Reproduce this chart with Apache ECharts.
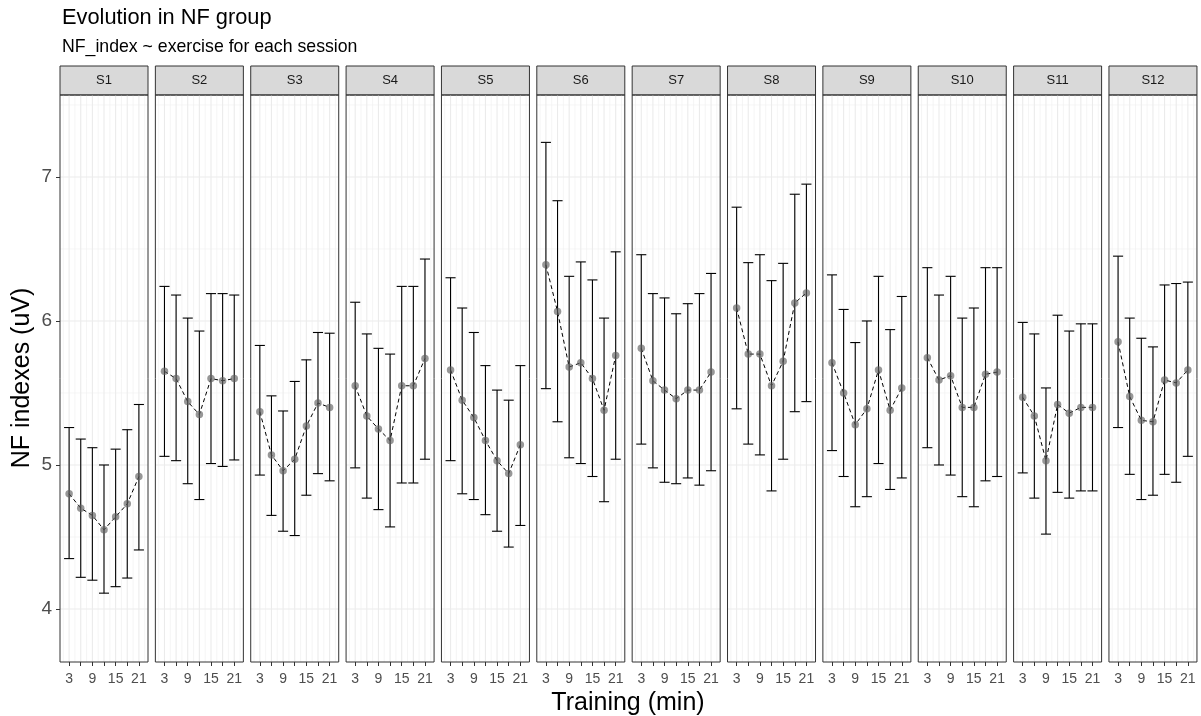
<!DOCTYPE html>
<html>
<head>
<meta charset="utf-8">
<title>Evolution in NF group</title>
<script src="https://cdn.jsdelivr.net/npm/echarts@6/dist/echarts.min.js"></script>
<style>
  html, body { margin: 0; padding: 0; background: #fff; }
  #chart { width: 1201px; height: 716px; }
</style>
</head>
<body>
<div id="chart"></div>
<script>
// ---- data ----
const sessions = ['S1', 'S2', 'S3', 'S4', 'S5', 'S6', 'S7', 'S8', 'S9', 'S10', 'S11', 'S12'];
const minutes = [3, 6, 9, 12, 15, 18, 21];
const xTickValues = [3, 6, 9, 12, 15, 18, 21];
const xLabelValues = [3, 9, 15, 21];
const yTickValues = [4, 5, 6, 7];

const meanS1 = [4.80, 4.70, 4.65, 4.55, 4.64, 4.73, 4.92];
const upperS1 = [5.26, 5.18, 5.12, 5.00, 5.11, 5.245, 5.42];
const lowerS1 = [4.35, 4.22, 4.20, 4.11, 4.155, 4.215, 4.41];

const meanS2 = [5.65, 5.60, 5.44, 5.35, 5.60, 5.585, 5.60];
const upperS2 = [6.24, 6.18, 6.02, 5.93, 6.19, 6.19, 6.18];
const lowerS2 = [5.06, 5.03, 4.87, 4.76, 5.01, 4.99, 5.035];

const meanS3 = [5.37, 5.07, 4.96, 5.04, 5.27, 5.43, 5.40];
const upperS3 = [5.83, 5.48, 5.375, 5.58, 5.73, 5.92, 5.915];
const lowerS3 = [4.93, 4.65, 4.54, 4.51, 4.79, 4.94, 4.89];

const meanS4 = [5.55, 5.34, 5.25, 5.17, 5.55, 5.55, 5.74];
const upperS4 = [6.13, 5.91, 5.81, 5.77, 6.24, 6.24, 6.43];
const lowerS4 = [4.98, 4.77, 4.69, 4.57, 4.875, 4.875, 5.04];

const meanS5 = [5.66, 5.45, 5.33, 5.17, 5.03, 4.94, 5.14];
const upperS5 = [6.30, 6.09, 5.92, 5.69, 5.52, 5.45, 5.69];
const lowerS5 = [5.03, 4.80, 4.76, 4.655, 4.54, 4.43, 4.58];

const meanS6 = [6.39, 6.065, 5.68, 5.71, 5.60, 5.38, 5.76];
const upperS6 = [7.24, 6.835, 6.31, 6.41, 6.285, 6.02, 6.48];
const lowerS6 = [5.53, 5.30, 5.05, 5.01, 4.92, 4.745, 5.04];

const meanS7 = [5.81, 5.585, 5.52, 5.46, 5.52, 5.52, 5.645];
const upperS7 = [6.46, 6.19, 6.16, 6.05, 6.12, 6.19, 6.33];
const lowerS7 = [5.145, 4.98, 4.88, 4.87, 4.91, 4.86, 4.96];

const meanS8 = [6.09, 5.77, 5.77, 5.55, 5.72, 6.125, 6.195];
const upperS8 = [6.79, 6.405, 6.46, 6.28, 6.40, 6.88, 6.95];
const lowerS8 = [5.39, 5.145, 5.07, 4.82, 5.04, 5.37, 5.44];

const meanS9 = [5.71, 5.50, 5.28, 5.39, 5.66, 5.38, 5.535];
const upperS9 = [6.32, 6.08, 5.85, 6.00, 6.31, 5.94, 6.17];
const lowerS9 = [5.10, 4.92, 4.71, 4.78, 5.01, 4.83, 4.91];

const meanS10 = [5.745, 5.59, 5.62, 5.40, 5.40, 5.63, 5.645];
const upperS10 = [6.37, 6.18, 6.31, 6.02, 6.09, 6.37, 6.37];
const lowerS10 = [5.12, 5.00, 4.93, 4.78, 4.71, 4.89, 4.92];

const meanS11 = [5.47, 5.34, 5.03, 5.42, 5.36, 5.40, 5.40];
const upperS11 = [5.99, 5.91, 5.535, 6.04, 5.93, 5.98, 5.98];
const lowerS11 = [4.945, 4.77, 4.52, 4.81, 4.77, 4.82, 4.82];

const meanS12 = [5.855, 5.475, 5.31, 5.30, 5.59, 5.57, 5.66];
const upperS12 = [6.45, 6.02, 5.88, 5.82, 6.25, 6.26, 6.27];
const lowerS12 = [5.26, 4.935, 4.76, 4.79, 4.935, 4.88, 5.06];

const means = [meanS1, meanS2, meanS3, meanS4, meanS5, meanS6, meanS7, meanS8, meanS9, meanS10, meanS11, meanS12];
const uppers = [upperS1, upperS2, upperS3, upperS4, upperS5, upperS6, upperS7, upperS8, upperS9, upperS10, upperS11, upperS12];
const lowers = [lowerS1, lowerS2, lowerS3, lowerS4, lowerS5, lowerS6, lowerS7, lowerS8, lowerS9, lowerS10, lowerS11, lowerS12];

// ---- layout ----
const FONT = 'Liberation Sans, Arial, Helvetica, sans-serif';
const PANEL_LEFT0 = 60;
const PANEL_STEP = 95.36;
const PANEL_W = 88;
const PANEL_TOP = 95;
const PANEL_H = 567;
const STRIP_H = 29;
const X_MIN = 0.65, X_MAX = 23.35;
const Y_MIN = 3.632, Y_MAX = 7.569;
const CAP_HALF = 1.3;   // half width of the error bar caps, in minutes

// background grid lines of each panel (major / minor)
const xMajorGrid = xTickValues;
const xMinorGrid = [1.5, 4.5, 7.5, 10.5, 13.5, 16.5, 19.5, 22.5];
const yMajorGrid = yTickValues;
const yMinorGrid = [4.5, 5.5, 6.5, 7.5];

const chart = echarts.init(document.getElementById('chart'), null, { renderer: 'canvas' });

const grids = [], xAxes = [], yAxes = [], series = [], graphics = [];

sessions.forEach(function (name, i) {
  const left = PANEL_LEFT0 + i * PANEL_STEP;
  grids.push({
    left: left, top: PANEL_TOP, width: PANEL_W, height: PANEL_H,
    show: false, containLabel: false, outerBoundsMode: 'none'
  });
  xAxes.push({
    type: 'value', gridIndex: i, min: X_MIN, max: X_MAX,
    axisLine: { show: false },
    axisTick: { show: true, customValues: xTickValues, length: 4, lineStyle: { color: '#333', width: 1 } },
    axisLabel: { show: true, customValues: xLabelValues, fontSize: 14, color: '#4d4d4d', margin: 10, fontFamily: FONT },
    splitLine: { show: false }
  });
  yAxes.push({
    type: 'value', gridIndex: i, min: Y_MIN, max: Y_MAX,
    axisLine: { show: false },
    axisTick: { show: i === 0, customValues: yTickValues, length: 4, lineStyle: { color: '#333', width: 1 } },
    axisLabel: { show: i === 0, customValues: yTickValues, fontSize: 19, color: '#4d4d4d', margin: 8, fontFamily: FONT },
    splitLine: { show: false }
  });

  // panel background grid and border
  series.push({
    type: 'custom', xAxisIndex: i, yAxisIndex: i, silent: true, z: 1,
    data: [[X_MIN, Y_MIN]],
    renderItem: function (params, api) {
      const cs = params.coordSys;
      const children = [];
      const vline = function (x, w, c) {
        const a = api.coord([x, Y_MIN]), b = api.coord([x, Y_MAX]);
        children.push({ type: 'line', shape: { x1: a[0], y1: a[1], x2: b[0], y2: b[1] }, style: { stroke: c, lineWidth: w } });
      };
      const hline = function (y, w, c) {
        const a = api.coord([X_MIN, y]), b = api.coord([X_MAX, y]);
        children.push({ type: 'line', shape: { x1: a[0], y1: a[1], x2: b[0], y2: b[1] }, style: { stroke: c, lineWidth: w } });
      };
      xMinorGrid.forEach(function (x) { vline(x, 0.6, '#efefef'); });
      yMinorGrid.forEach(function (y) { hline(y, 0.6, '#f0f0f0'); });
      xMajorGrid.forEach(function (x) { vline(x, 1.1, '#ebebeb'); });
      yMajorGrid.forEach(function (y) { hline(y, 1.1, '#ebebeb'); });
      children.push({
        type: 'rect', shape: { x: cs.x, y: cs.y, width: cs.width, height: cs.height },
        style: { fill: null, stroke: '#333', lineWidth: 1 }
      });
      return { type: 'group', children: children };
    }
  });

  // error bars
  series.push({
    type: 'custom', xAxisIndex: i, yAxisIndex: i, z: 3,
    data: minutes.map(function (m, k) { return [m, lowers[i][k], uppers[i][k]]; }),
    encode: { x: 0, y: [1, 2] },
    renderItem: function (params, api) {
      const x = api.value(0);
      const lo = api.coord([x, api.value(1)]);
      const hi = api.coord([x, api.value(2)]);
      const l = api.coord([x - CAP_HALF, api.value(1)])[0];
      const r = api.coord([x + CAP_HALF, api.value(1)])[0];
      const st = { stroke: '#000', lineWidth: 1.1 };
      return {
        type: 'group',
        children: [
          { type: 'line', shape: { x1: lo[0], y1: lo[1], x2: hi[0], y2: hi[1] }, style: st },
          { type: 'line', shape: { x1: l, y1: lo[1], x2: r, y2: lo[1] }, style: st },
          { type: 'line', shape: { x1: l, y1: hi[1], x2: r, y2: hi[1] }, style: st }
        ]
      };
    }
  });

  // mean trajectory
  series.push({
    type: 'line', xAxisIndex: i, yAxisIndex: i, z: 4,
    data: minutes.map(function (m, k) { return [m, means[i][k]]; }),
    symbol: 'circle', symbolSize: 7.5, showSymbol: true,
    lineStyle: { color: '#000', width: 1, type: [4, 3] },
    itemStyle: { color: 'rgba(95,95,95,0.65)', borderWidth: 0 },
    emphasis: { disabled: true },
    animation: false
  });

  // facet strip
  graphics.push({
    type: 'rect', shape: { x: left, y: PANEL_TOP - STRIP_H, width: PANEL_W, height: STRIP_H },
    style: { fill: '#d9d9d9', stroke: '#333', lineWidth: 1 }
  });
  graphics.push({
    type: 'text', x: left + PANEL_W / 2, y: PANEL_TOP - STRIP_H / 2,
    style: { text: name, fontSize: 13, fill: '#1a1a1a', fontFamily: FONT, textAlign: 'center', textVerticalAlign: 'middle' }
  });
});

graphics.push({
  type: 'text', x: 62, y: 18,
  style: { text: 'Evolution in NF group', fontSize: 21.8, fill: '#000', fontFamily: FONT, textAlign: 'left', textVerticalAlign: 'middle' }
});
graphics.push({
  type: 'text', x: 62, y: 47,
  style: { text: 'NF_index ~ exercise for each session', fontSize: 17.7, fill: '#000', fontFamily: FONT, textAlign: 'left', textVerticalAlign: 'middle' }
});
graphics.push({
  type: 'text', x: 628, y: 703,
  style: { text: 'Training (min)', fontSize: 25, fill: '#000', fontFamily: FONT, textAlign: 'center', textVerticalAlign: 'middle' }
});
graphics.push({
  type: 'text', x: 22, y: 378, rotation: Math.PI / 2,
  style: { text: 'NF indexes (uV)', fontSize: 25, fill: '#000', fontFamily: FONT, textAlign: 'center', textVerticalAlign: 'middle' }
});

chart.setOption({
  animation: false,
  backgroundColor: '#fff',
  grid: grids,
  xAxis: xAxes,
  yAxis: yAxes,
  series: series,
  graphic: { elements: graphics }
});
</script>
</body>
</html>
